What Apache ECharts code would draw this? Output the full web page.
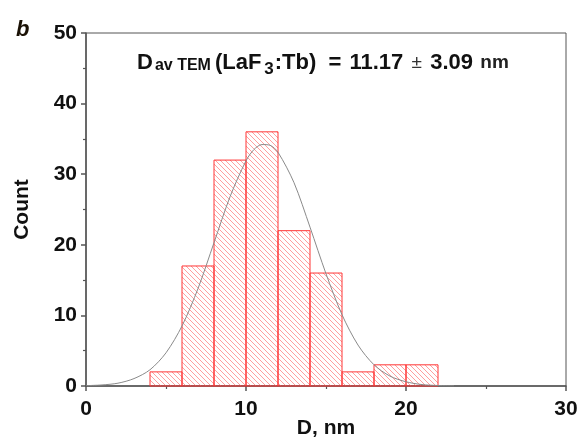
<!DOCTYPE html>
<html>
<head>
<meta charset="utf-8">
<title>LaF3:Tb size histogram</title>
<script src="https://cdn.jsdelivr.net/npm/echarts@6/dist/echarts.min.js"></script>
<style>
  body { margin: 0; padding: 0; background: #fff; }
  #main { width: 582px; height: 442px; }
</style>
</head>
<body>
<div id="main"></div>
<script>
// histogram bins: left edge (nm) and count
var binStart = [4, 6, 8, 10, 12, 14, 16, 18, 20];
var binWidth = 2;
var counts = [2, 17, 32, 36, 22, 16, 2, 3, 3];

// fitted curve
var fitX = [0, 1, 2, 3, 4, 5, 6, 7, 8, 9, 10, 10.5, 11, 11.5, 12, 13, 14, 15, 16, 17, 18, 19, 20, 21, 22, 23];
var fitY = [0.05, 0.15, 0.4, 1.05, 2.3, 4.7, 8.5, 13.8, 20.3, 26.8, 31.9, 33.5, 34.2, 34.1, 33.1, 28.8, 22.5, 15.9, 10.1, 5.8, 3.0, 1.4, 0.6, 0.2, 0.07, 0.02];

// axes
var xMin = 0, xMax = 30, xStep = 10;
var yMin = 0, yMax = 50, yStep = 10;

var FONT = 'Liberation Sans, Arial, sans-serif';
var AXIS = '#555';

// diagonal hatch tile for the bars
function hatchTile() {
  var n = 5;
  var c = document.createElement('canvas');
  c.width = n; c.height = n;
  var g = c.getContext('2d');
  g.strokeStyle = 'rgba(255,90,90,0.58)';
  g.lineWidth = 1;
  g.beginPath();
  g.moveTo(-1, -1); g.lineTo(n + 1, n + 1);
  g.moveTo(-1, n - 1); g.lineTo(1, n + 1);
  g.moveTo(n - 1, -1); g.lineTo(n + 1, 1);
  g.stroke();
  return c;
}
var hatch = { image: hatchTile(), repeat: 'repeat' };

// rich-text token styles for the annotation
function tok(size, h, pl, weight, color) {
  return {
    fontFamily: FONT, fontSize: size, fontWeight: weight || 'bold', fill: color || '#111',
    height: h, lineHeight: h, verticalAlign: 'top', padding: [0, 0, 0, pl || 0]
  };
}

var chart = echarts.init(document.getElementById('main'));
chart.setOption({
  animation: false,
  grid: {
    left: 86, right: 16, top: 33, bottom: 56,
    containLabel: false, outerBoundsMode: 'none',
    show: true, borderColor: AXIS, borderWidth: 1
  },
  xAxis: {
    type: 'value', min: xMin, max: xMax, interval: xStep,
    name: 'D, nm', nameLocation: 'middle', nameGap: 32, nameMoveOverlap: false,
    nameTextStyle: { fontFamily: FONT, fontSize: 21, fontWeight: 'bold', color: '#111' },
    axisLine: { lineStyle: { color: AXIS, width: 1.5 } },
    axisTick: { inside: false, length: 5, lineStyle: { color: AXIS, width: 1.5 } },
    minorTick: { show: true, splitNumber: 2, length: 3, lineStyle: { color: AXIS, width: 1.2 } },
    axisLabel: { fontFamily: FONT, fontSize: 21, fontWeight: 'bold', color: '#111', margin: 13 },
    splitLine: { show: false }
  },
  yAxis: {
    type: 'value', min: yMin, max: yMax, interval: yStep,
    name: 'Count', nameLocation: 'middle', nameGap: 53,
    nameTextStyle: { fontFamily: FONT, fontSize: 21, fontWeight: 'bold', color: '#111' },
    axisLine: { show: true, lineStyle: { color: AXIS, width: 1.5 } },
    axisTick: { show: true, inside: false, length: 5, lineStyle: { color: AXIS, width: 1.5 } },
    minorTick: { show: true, splitNumber: 2, length: 3, lineStyle: { color: AXIS, width: 1.2 } },
    axisLabel: { fontFamily: FONT, fontSize: 21, fontWeight: 'bold', color: '#111', margin: 9 },
    splitLine: { show: false }
  },
  graphic: [
    {
      type: 'text', left: 16, top: 19,
      style: { text: 'b', font: 'italic bold 22px ' + FONT, fill: '#1a1105' }
    },
    {
      type: 'text', left: 137, top: 50,
      style: {
        text: '{d|D}{s|av TEM}{p|(LaF}{s3|3}{c|:Tb)}{e| = }{v|11.17}{pm| ± }{w|3.09}{n| nm}',
        rich: {
          d: tok(22, 26, 0),
          s: tok(16, 32, 2),
          p: tok(22, 26, 4),
          s3: tok(17, 38, 3),
          c: tok(22, 26, 1),
          e: tok(22, 26, 6),
          v: tok(22, 26, 2),
          pm: tok(19, 26, 3, 'normal', '#333'),
          w: tok(22, 26, 3),
          n: tok(19, 26, 2, 'bold', '#222')
        }
      }
    }
  ],
  series: [
    {
      type: 'custom',
      data: binStart.map(function (s, i) { return [s, counts[i]]; }),
      encode: { x: 0, y: 1 },
      renderItem: function (params, api) {
        var x0 = api.value(0);
        var top = api.coord([x0, api.value(1)]);
        var bot = api.coord([x0 + binWidth, 0]);
        return {
          type: 'rect',
          shape: { x: top[0], y: top[1], width: bot[0] - top[0], height: bot[1] - top[1] },
          style: { fill: hatch, stroke: '#ff3535', lineWidth: 1 }
        };
      },
      z: 2
    },
    {
      type: 'line',
      data: fitX.map(function (x, i) { return [x, fitY[i]]; }),
      smooth: 0.3,
      showSymbol: false,
      lineStyle: { color: '#8a8a8a', width: 1 },
      z: 3
    }
  ]
});
</script>
</body>
</html>
